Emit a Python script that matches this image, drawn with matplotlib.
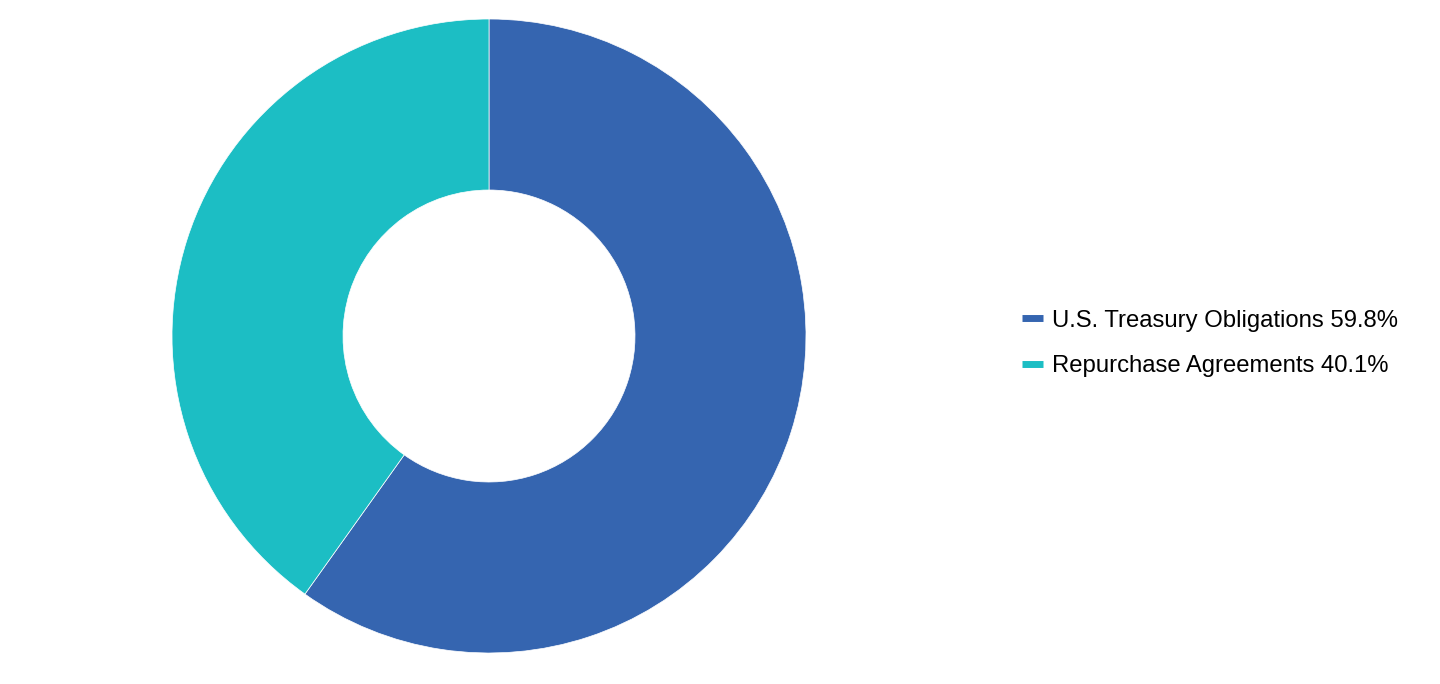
import matplotlib.pyplot as plt
from matplotlib.lines import Line2D

plt.rcParams['font.family'] = ['Liberation Sans', 'DejaVu Sans']

labels = ["U.S. Treasury Obligations", "Repurchase Agreements"]
values = [59.8, 40.1]
colors = ["#3565b0", "#1cbec4"]

fig = plt.figure(figsize=(14.4, 6.84), dpi=100)

# donut: centre ~ (489, 336) px, outer radius ~317 px
cx, cy, r = 489, 684 - 336, 317
ax = fig.add_axes([(cx - r) / 1440, (cy - r) / 684, 2 * r / 1440, 2 * r / 684])
ax.pie(values, colors=colors, startangle=90, counterclock=False,
       radius=1.0, wedgeprops=dict(width=1 - 146 / 317, edgecolor="white", linewidth=0.5))
ax.set_xlim(-1, 1)
ax.set_ylim(-1, 1)
ax.set_aspect("equal")
ax.axis("off")

handles = [Line2D([0], [0], color=c, lw=5, solid_capstyle="butt") for c in colors]
legend_labels = [f"{l} {v}%" for l, v in zip(labels, values)]
fig.legend(handles, legend_labels, loc="center left", bbox_to_anchor=(1022 / 1440, 340.5 / 684),
           frameon=False, fontsize=17.2, handlelength=0.88, handletextpad=0.38,
           labelspacing=1.0, borderpad=0, borderaxespad=0)

fig.savefig("out.png", dpi=100)
